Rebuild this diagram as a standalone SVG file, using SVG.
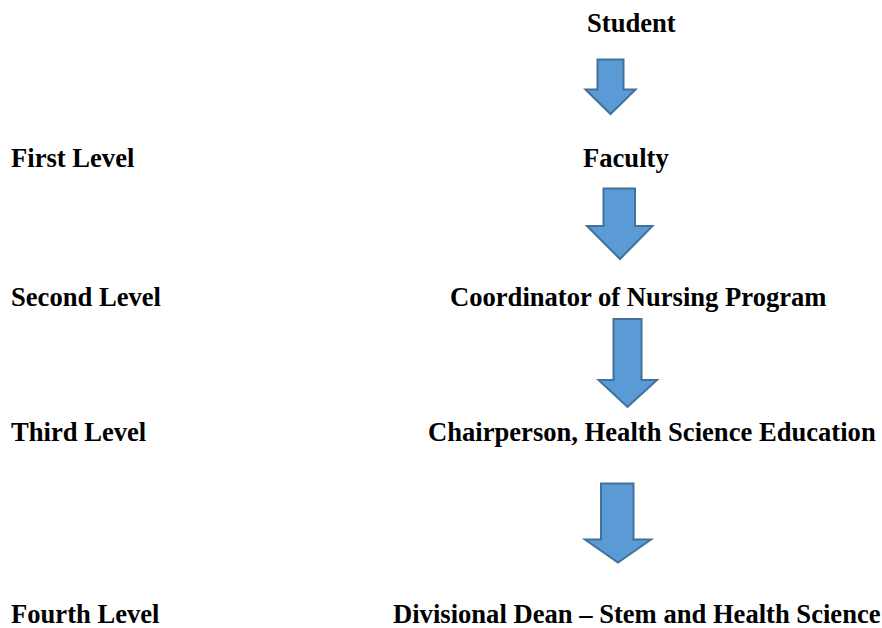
<svg xmlns="http://www.w3.org/2000/svg" width="882" height="628" viewBox="0 0 882 628">
<style>
text{font-family:"Liberation Serif","Times New Roman",serif;font-weight:bold;font-size:26.6px;fill:#000}
.arr{fill:#5b9bd5;stroke:#41719c;stroke-width:2;stroke-linejoin:miter}
</style>
<rect width="882" height="628" fill="#fff"/>
<g id="labels">
<text x="11" y="167">First Level</text>
<text x="11" y="306">Second Level</text>
<text x="11" y="441">Third Level</text>
<text x="11" y="623">Fourth Level</text>
</g>
<g id="student"><text x="587" y="32">Student</text></g>
<g id="faculty"><text x="583" y="167">Faculty</text></g>
<g id="coordinator"><text x="450" y="306">Coordinator of Nursing Program</text></g>
<g id="chairperson"><text x="428" y="441">Chairperson, Health Science Education</text></g>
<g id="dean"><text x="393" y="623">Divisional Dean – Stem and Health Science</text></g>
<g id="connectors">
<polygon class="arr" points="597.5,59.5 623.5,59.5 623.5,89.5 635.5,89.5 610.5,114 585.5,89.5 597.5,89.5"/>
<polygon class="arr" points="603.5,188.5 635,188.5 635,226 652.5,226 620,259 587,226 603.5,226"/>
<polygon class="arr" points="613.5,319 641.5,319 641.5,380 657,380 627.5,407 598.5,380 613.5,380"/>
<polygon class="arr" points="601,483.5 633.5,483.5 633.5,539.5 651,539.5 618,562.5 585,539.5 601,539.5"/>
</g>
</svg>
